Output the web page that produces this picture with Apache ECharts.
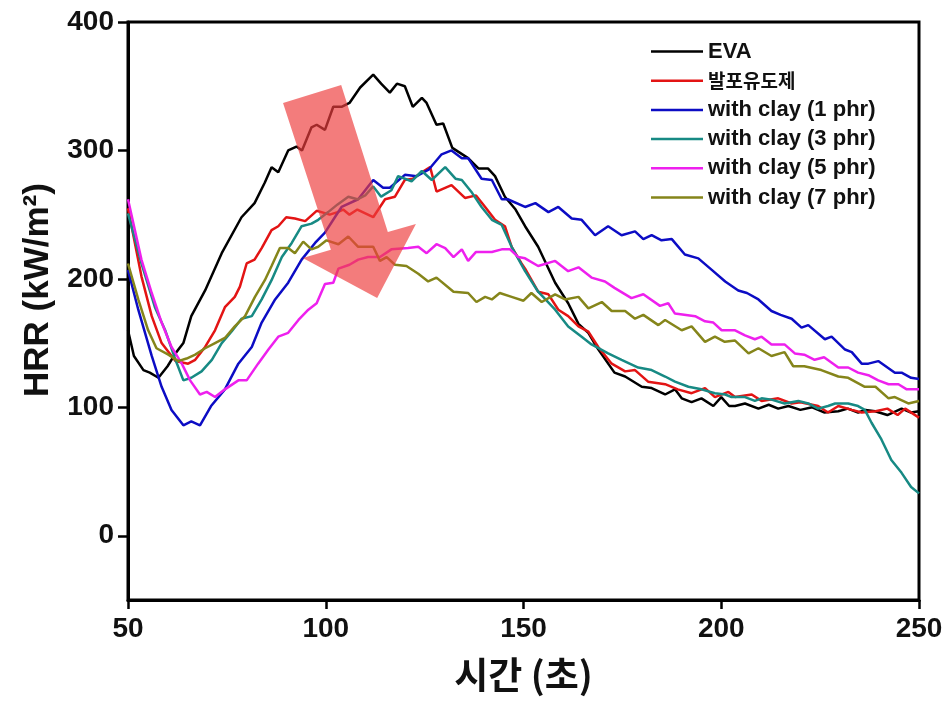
<!DOCTYPE html>
<html>
<head>
<meta charset="utf-8">
<script src="https://cdn.jsdelivr.net/npm/echarts@6/dist/echarts.min.js"></script>
<style>
html,body{margin:0;padding:0;background:#fff;}
#c{width:946px;height:702px;}
</style>
</head>
<body>
<div id="c"></div>
<script>
// ---- data ----
const seriesNames = ['EVA', '발포유도제', 'with clay (1 phr)', 'with clay (3 phr)', 'with clay (5 phr)', 'with clay (7 phr)'];
const xTicks = [50, 100, 150, 200, 250];
const yTicks = [0, 100, 200, 300, 400];

const evaT = [50,51.5,53.9,55.5,57.7,60,62,64,66,69.5,73.7,78.7,82,84.6,86.3,88,90.5,92.6,94,96.4,97.7,99.8,101.9,104,106,108.7,112,114,116.2,118,120,122,124.3,125.5,128,129.7,132,136,138.6,141,142.8,145.3,148,150.4,153.7,158,161.3,163.9,166.4,168.5,173,175.7,179.9,182.4,185.8,188.3,190,192.5,195,198,200,202,203.5,206,209.4,212,214.4,217,220,223,226,229.6,232,234.6,236.5,238.9,242,245.6,248,250];
const evaV = [160,140,129,127,123,132,142,150,171,191,220,248,259,275,287,283,300,303,300,318,320,316,334,334,337,349,359,352,345,352,350,334,341,337,320,321,302,294,286,286,280,264,254,241,225,197,181,165,158,147,127,124,116,115,110,114,107,104,107,101,108,101,101,103,99,102,99,101,98,100,96,97,99,96,98,97,94,99,96,97];

const foamT = [50,53.4,56,58.5,62,65.2,67,69.5,72,74.5,77,78.3,80,82,83.8,86.3,88,90,92.2,94.8,97.7,100,101,103,104.4,106,108,110,112,115,117.5,120,122,124.3,126.4,128,131.8,135.2,138,140.3,142.8,145.3,147,149.5,150.4,153.7,156.3,158.8,161.3,163.9,166.4,168.9,172.3,175.7,178.2,181.5,185.8,189,192.5,195.9,198.4,201.8,203.5,207.7,210.2,214.4,217.8,220,224.5,227,229.6,233,235.5,239,242,244.6,246.5,250];
const foamV = [255,202,171,150,136,134,137,147,160,178,186,194,212,215,224,238,241,248,247,245,253,251,250,252,254,250,254,251,248,262,264,277,278,283,287,268,273,263,265,256,246,241,225,212,208,190,188,176,171,163,159,147,134,128,129,120,118,114,111,115,108,112,108,110,105,107,103,104,101,96,101,98,96,97,99,94,99,92];

const clay1T = [50,52.6,56,58.5,61,64,66,68.2,71,74.5,77.9,81.3,83.8,87.2,90.5,93.9,97.3,99.8,102.3,104,108.2,112,114.5,116.2,120,123,126,129.3,131.8,134.4,136,139.4,142,144.5,146,150.4,153,156.3,158.8,162.2,164.7,168.1,171.4,174.8,178.2,180.3,182.4,184.9,187.5,190.8,194.2,197.6,201,204.3,206.5,209.4,212.7,215,217.8,220.3,222,226.2,227.9,231.3,233,235.5,237.2,239.7,243.9,245.6,248,250];
const clay1V = [207,176,140,116,98,86,89,86,101,114,134,147,166,184,197,215,228,236,248,256,262,277,271,271,281,280,285,297,300,294,294,278,277,262,262,256,259,252,256,247,246,234,241,234,237,231,234,230,231,219,216,207,198,191,189,184,175,172,169,162,164,153,155,145,143,134,134,136,127,127,123,122];

const clay3T = [50,53.4,56.8,59.4,62,64,66,68.6,71.2,73.7,76.2,78.7,81.3,83.8,86.3,88.9,91.4,93.9,96.4,98.1,100.6,103,105.7,108,110,112,114,116.6,118.3,121.7,124.3,126.8,130.2,132.8,134.4,137,139.4,142,144.5,147,150.4,153.7,158,161.3,164.7,167.2,171.4,174.8,179,182.4,185.8,188.3,191.7,195,198.4,201,202.6,206,208.5,210.2,212.7,216,219.5,222,224.5,227,228.8,232.1,234.6,236.3,238,240.5,243,245.6,248,250];
const clay3V = [251,212,178,160,137,121,123,128,137,150,159,169,171,184,199,217,228,241,243,246,252,258,264,262,265,272,264,269,280,276,284,277,287,278,277,267,256,246,242,225,206,190,176,163,155,149,142,137,131,129,124,120,116,114,111,110,108,108,105,107,106,103,105,103,99,101,103,103,101,98,88,75,59,49,38,33];

const clay5T = [50,53.4,56,58.5,61,63.6,65.7,68.2,69.9,72,74.5,77.9,80,82.9,85.5,88,90.5,93.1,95.6,97.7,99.8,101.9,103.2,106,108.2,110.7,113.7,116.6,120.8,123.4,125.5,128,130.2,132.3,134.4,136,138,142,144.5,146.6,148.7,150.4,153.7,158,161.3,163.9,167.2,170.6,173,177.3,180.3,184.5,186.6,188.3,193.4,195.9,198,200.1,203.5,206,208.5,210.2,212.7,216,218.6,221,223.6,226,229.6,232.1,234.6,237.2,239.7,242.3,244.8,246.9,250];
const clay5V = [262,215,189,166,147,134,121,110,112,108,114,121,121,134,145,155,158,168,176,181,196,197,208,211,215,217,217,223,224,225,220,227,224,217,223,214,221,221,223,223,217,216,210,214,206,209,201,198,193,185,188,179,181,173,171,167,166,160,160,156,153,155,149,149,142,141,137,139,131,131,127,125,121,118,118,114,114];

const clay7T = [50,52.6,55.1,57.2,60.2,62.7,64.8,67,69.5,72,74.5,77,79.6,82.1,84.6,86.3,88.4,90.5,92.2,94.3,96.4,98.1,100.2,103.2,105.7,108.2,112,113.7,115.4,117.5,120.4,123.4,125.9,128,132.3,136,138.1,140.3,142,144,147,150,152,154.6,158,160.5,163.9,166.4,169.8,172.3,175.7,178.2,180.3,184.1,185.8,190,192.5,195.9,198.4,200.9,203.5,206.9,209.4,212.7,216,218.2,221,225.3,229.6,232.1,236.3,239,242.3,243.9,247.3,250];
const clay7V = [212,184,160,146,141,136,138,141,146,150,154,163,171,186,199,210,224,224,220,229,223,225,230,227,233,225,225,214,217,211,210,204,198,201,190,189,182,186,184,189,186,183,189,182,188,184,186,177,182,175,175,169,172,164,168,160,163,151,155,151,152,142,146,140,143,132,132,129,124,123,116,116,107,108,103,105];

// arrow annotation outline, in data units (time, HRR)
const arrowT = [89.2, 103.9, 115.7, 122.8, 113.0, 94.2, 101.3];
const arrowV = [337, 351, 236.6, 242.8, 185.2, 216.3, 222.6];

// ---- chart ----
const colors = ['#000000', '#e31414', '#0c0cc4', '#178a84', '#ee20ee', '#85851a'];
const allT = [evaT, foamT, clay1T, clay3T, clay5T, clay7T];
const allV = [evaV, foamV, clay1V, clay3V, clay5V, clay7V];
const FONT = "'Liberation Sans', Arial, sans-serif";

const chart = echarts.init(document.getElementById('c'), null, {renderer: 'canvas'});

const series = seriesNames.map((n, i) => ({
  name: n,
  type: 'line',
  symbol: 'none',
  data: allT[i].map((t, k) => [t, allV[i][k]]),
  lineStyle: {color: colors[i], width: 2.5},
  itemStyle: {color: colors[i]},
  animation: false
}));

chart.setOption({
  backgroundColor: '#fff',
  animation: false,
  grid: {left: 128, right: 27, top: 22, bottom: 102, show: true, borderColor: '#000', borderWidth: 3, backgroundColor: 'transparent'},
  legend: {
    data: seriesNames,
    orient: 'vertical',
    left: 646,
    top: 34,
    icon: 'rect',
    itemWidth: 52,
    itemHeight: 2.5,
    itemGap: 4.2,
    textStyle: {fontFamily: FONT, fontWeight: 'bold', fontSize: 22, lineHeight: 25, color: '#111',
      rich: {k: {fontFamily: "'Noto Sans CJK KR', sans-serif", fontWeight: 'bold', fontSize: 19, lineHeight: 25, color: '#111'}}},
    formatter: n => (n === '발포유도제' ? '{k|' + n + '}' : n)
  },
  xAxis: {
    type: 'value', min: 50, max: 250, interval: 50,
    name: '시간 (초)', nameLocation: 'middle', nameGap: 56,
    nameTextStyle: {fontFamily: "'Noto Sans CJK KR', sans-serif", fontWeight: 'bold', fontSize: 37, color: '#111'},
    axisLine: {onZero: false, lineStyle: {color: '#000', width: 3}},
    axisTick: {length: 9, lineStyle: {color: '#000', width: 2.5}},
    axisLabel: {fontFamily: FONT, fontWeight: 'bold', fontSize: 28, color: '#111', margin: 15,
      customValues: xTicks},
    splitLine: {show: false}
  },
  yAxis: {
    type: 'value', min: -50, max: 400,
    name: 'HRR (kW/m²)', nameLocation: 'middle', nameGap: 72, nameRotate: 90,
    nameTextStyle: {fontFamily: FONT, fontWeight: 'bold', fontSize: 35, color: '#111', padding: [0, 0, 0, 42]},
    axisLine: {onZero: false, lineStyle: {color: '#000', width: 3}},
    axisTick: {length: 10, lineStyle: {color: '#000', width: 2.5}, customValues: yTicks},
    axisLabel: {fontFamily: FONT, fontWeight: 'bold', fontSize: 28, color: '#111', margin: 14, customValues: yTicks},
    splitLine: {show: false}
  },
  series: series
});

const pts = arrowT.map((t, i) => chart.convertToPixel({gridIndex: 0}, [t, arrowV[i]]));
chart.setOption({
  graphic: [{
    type: 'polygon',
    z: 100,
    shape: {points: pts},
    style: {fill: 'rgba(238,62,62,0.68)'}
  }]
});
</script>
</body>
</html>
